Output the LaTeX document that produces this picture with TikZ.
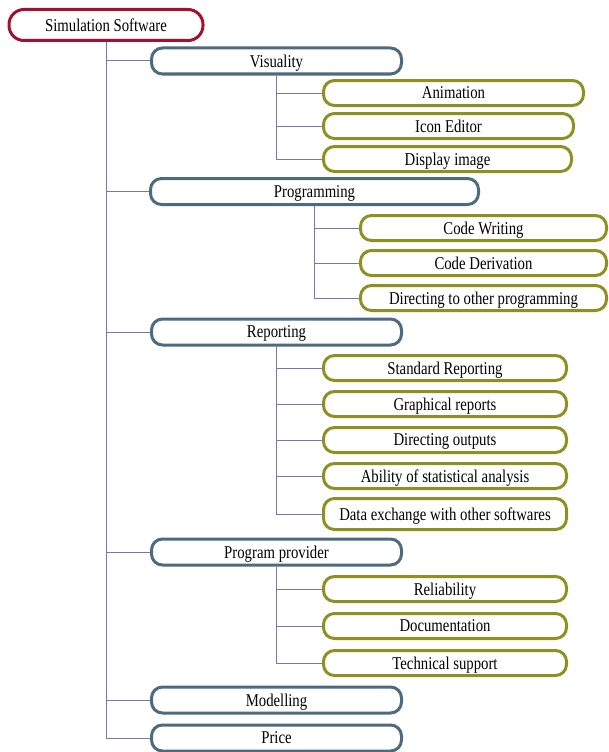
\documentclass[tikz,border=0pt]{standalone}
\usepackage{fontspec}
\setmainfont{Liberation Serif}[FakeStretch=0.82]
\definecolor{rootred}{HTML}{A31030}
\definecolor{catblue}{HTML}{4D6B7E}
\definecolor{itemolive}{HTML}{8F8F22}
\definecolor{linkblue}{HTML}{7A74B6}
\begin{document}
\begin{tikzpicture}[x=1pt, y=-1pt,
    box/.style = {rectangle, draw, fill=white, line width=3pt, inner sep=0pt,
                  rounded corners=11pt, text depth=0pt, font=\fontsize{18}{18}\selectfont},
    rootbox/.style = {box, draw=rootred, rounded corners=15pt, minimum height=31pt},
    catbox/.style = {box, draw=catblue, minimum width=250pt, minimum height=26pt},
    itembox/.style = {box, draw=itemolive, minimum width=243pt, minimum height=25pt},
    link/.style = {draw=linkblue, line width=1pt}]
    \useasboundingbox (0,0) rectangle (609,752);
    \def\cx{276.5}
    \def\ix{445}
    % root
    \node(root) [rootbox, minimum width=194pt] at (106,25) {Simulation Software};
    % main groups
    \node(vis)   [catbox] at (\cx,61) {Visuality};
    \node(prog)  [catbox, minimum width=328pt] at (314.5,191.5) {Programming};
    \node(rep)   [catbox] at (\cx,332) {Reporting};
    \node(prov)  [catbox] at (\cx,552) {Program provider};
    \node(mod)   [catbox] at (\cx,700) {Modelling};
    \node(price) [catbox] at (\cx,738) {Price};
    % visuality
    \node(anim) [itembox, minimum width=260pt] at (453.5,93) {Animation};
    \node(icon) [itembox, minimum width=250pt] at (448.5,126) {Icon Editor};
    \node(disp) [itembox, minimum width=248pt] at (447.5,159) {Display image};
    % programming
    \node(write) [itembox, minimum width=246pt] at (483.5,228) {Code Writing};
    \node(deriv) [itembox, minimum width=246pt] at (483.5,263) {Code Derivation};
    \node(other) [itembox, minimum width=246pt] at (483.5,298) {Directing to other programming};
    % reporting
    \node(std)   [itembox] at (\ix,368) {Standard Reporting};
    \node(graph) [itembox] at (\ix,404) {Graphical reports};
    \node(outp)  [itembox] at (\ix,440) {Directing outputs};
    \node(stat)  [itembox] at (\ix,476) {Ability of statistical analysis};
    \node(exch)  [itembox, minimum height=31pt] at (\ix,514) {Data exchange with other softwares};
    % program provider
    \node(rel)  [itembox] at (\ix,589) {Reliability};
    \node(doc)  [itembox] at (\ix,626) {Documentation};
    \node(tech) [itembox] at (\ix,663) {Technical support};
    % links
    \foreach \c in {vis,prog,rep,prov,mod,price}
        \draw[link] (root.south) |- (\c.west);
    \foreach \i in {anim,icon,disp}
        \draw[link] (vis.south) |- (\i.west);
    \foreach \i in {write,deriv,other}
        \draw[link] (prog.south) |- (\i.west);
    \foreach \i in {std,graph,outp,stat,exch}
        \draw[link] (rep.south) |- (\i.west);
    \foreach \i in {rel,doc,tech}
        \draw[link] (prov.south) |- (\i.west);
\end{tikzpicture}
\end{document}
